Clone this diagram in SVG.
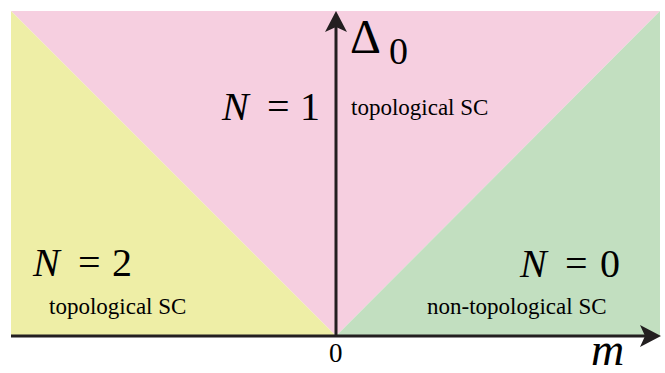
<svg xmlns="http://www.w3.org/2000/svg" width="665" height="373" viewBox="0 0 665 373">
<g id="regions">
<polygon points="11,11 660,11 336,336" fill="#f6cfe0"/>
<polygon points="11,11 336,336 11,336" fill="#eeeea6"/>
<polygon points="660,11 660,336 336,336" fill="#c2dfc0"/>
</g>
<g id="connectors" fill="#231f20">
<line x1="11" y1="336" x2="648" y2="336" stroke="#231f20" stroke-width="3"/>
<line x1="336" y1="337" x2="336" y2="24" stroke="#231f20" stroke-width="3"/>
<polygon points="661,336 640,325 645,336 640,347"/>
<polygon points="336,11 325,32 336,27 347,32"/>
</g>
<g id="n1">
<text x="222" y="120" font-family="Liberation Serif" font-size="40" font-style="italic">N</text>
<text x="267" y="120" font-family="Liberation Serif" font-size="40">=</text>
<text x="300" y="120" font-family="Liberation Serif" font-size="40">1</text>
<text x="351" y="115" font-family="Liberation Serif" font-size="23">topological SC</text>
</g>
<g id="n2">
<text x="33" y="276" font-family="Liberation Serif" font-size="40" font-style="italic">N</text>
<text x="78" y="276" font-family="Liberation Serif" font-size="40">=</text>
<text x="112" y="276" font-family="Liberation Serif" font-size="40">2</text>
<text x="49" y="314" font-family="Liberation Serif" font-size="23">topological SC</text>
</g>
<g id="n0">
<text x="520" y="277" font-family="Liberation Serif" font-size="40" font-style="italic">N</text>
<text x="565" y="277" font-family="Liberation Serif" font-size="40">=</text>
<text x="600" y="277" font-family="Liberation Serif" font-size="40">0</text>
<text x="427" y="314" font-family="Liberation Serif" font-size="23">non-topological SC</text>
</g>
<g id="labels">
<text x="350" y="53" font-family="Liberation Serif" font-size="48">&#916;</text>
<text x="389" y="64" font-family="Liberation Serif" font-size="38">0</text>
<text x="329" y="362" font-family="Liberation Serif" font-size="27">0</text>
<text x="591" y="365" font-family="Liberation Serif" font-size="46" font-style="italic">m</text>
</g>
</svg>
